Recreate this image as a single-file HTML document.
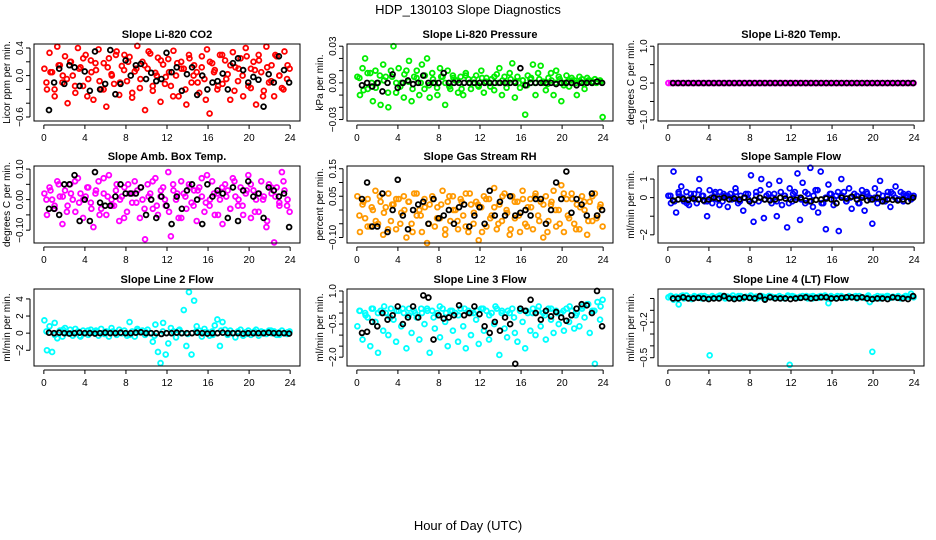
<!DOCTYPE html>
<html><head><meta charset="utf-8">
<style>
body{margin:0;background:#fff;}
svg{display:block;font-family:"Liberation Sans",sans-serif;}
</style></head>
<body>
<svg id="fig" width="936" height="540" viewBox="0 0 936 540">
<text x="468" y="14" text-anchor="middle" font-size="13">HDP_130103  Slope Diagnostics</text>
<text x="468" y="530" text-anchor="middle" font-size="13">Hour of Day (UTC)</text>
</svg>
<script>
const titles = ["Slope Li-820 CO2","Slope Li-820 Pressure","Slope Li-820 Temp.","Slope Amb. Box Temp.","Slope Gas Stream RH","Slope Sample Flow","Slope Line 2 Flow","Slope Line 3 Flow","Slope Line 4 (LT) Flow"];
const yLabels = ["Licor ppm per min.","kPa per min.","degrees C per min.","degrees C per min.","percent per min.","ml/min per min.","ml/min per min.","ml/min per min.","ml/min per min."];
const colors = ["#ff0000","#00ee00","#ff00ff","#ff00ff","#ff9900","#0000ff","#00ffff","#00ffff","#00ffff"];
const xTicks = [0,4,8,12,16,20,24];
const yLims = [[-0.658,0.458],[-0.0312,0.0318],[-1.03,1.06],[-0.142,0.11],[-0.12,0.16],[-2.44,1.7],[-3.84,5.16],[-2.4,1.09],[-0.57,0.08]];
const yTicks = [[-0.6,-0.4,-0.2,0,0.2,0.4],[-0.03,-0.02,-0.01,0,0.01,0.02,0.03],[-1,-0.5,0,0.5,1],[-0.1,-0.05,0,0.05,0.1],[-0.1,-0.05,0,0.05,0.1,0.15],[-2,-1,0,1],[-2,0,2,4],[-2,-1.5,-1,-0.5,0,0.5,1],[-0.5,-0.4,-0.3,-0.2,-0.1,0]];
const yTickLabels = [{"-0.6":"-0.6","0":"0.0","0.4":"0.4"},{"-0.03":"-0.03","0":"0.00","0.03":"0.03"},{"-1":"-1.0","0":"0.0","1":"1.0"},{"-0.1":"-0.10","0":"0.00","0.1":"0.10"},{"-0.1":"-0.10","0.05":"0.05","0.15":"0.15"},{"-2":"-2","0":"0","1":"1"},{"-2":"-2","0":"0","2":"2","4":"4"},{"-2":"-2.0","-0.5":"-0.5","1":"1.0"},{"-0.5":"-0.5","-0.2":"-0.2"}];

const col1 = [0.1,-0.2,0.33,0.05,-0.3,0.42,0.15,-0.1,0.28,-0.4,0.2,0.0,-0.25,0.4,0.12,-0.15,0.3,-0.05,0.22,-0.35,0.08,0.38,-0.2,0.18,-0.45,0.25,0.02,-0.12,0.35,-0.28,0.14,0.3,-0.08,0.27,-0.32,0.06,0.43,-0.18,0.2,-0.5,0.1,0.32,-0.22,0.04,0.26,-0.38,0.16,-0.02,0.24,-0.15,0.36,0.0,-0.3,0.2,0.1,-0.42,0.3,-0.1,0.15,0.05,-0.25,0.28,-0.05,0.38,-0.55,0.18,0.08,-0.2,0.3,-0.12,0.22,0.02,-0.35,0.34,0.12,-0.08,0.25,-0.3,0.4,-0.15,0.1,0.2,-0.42,0.3,0.05,-0.22,0.42,-0.1,0.15,-0.3,0.28,0.0,-0.18,0.35,-0.05,0.1];
const ext1 = [-0.1,0.05,-0.2,0.15,0.0,-0.05,0.2,-0.15,0.1,0.25,-0.3,0.05,0.18,-0.08,-0.2,0.12,0.0,0.3,-0.1,0.08,0.2,-0.25,0.1,-0.05,0.15,0.35,-0.15,0.0,0.22,-0.12,0.05,-0.3,0.18,0.1,-0.2,0.25,0.0,-0.1,0.12,-0.35,0.2,0.05,-0.15,0.3,-0.05,0.15,-0.22,0.1,0.0,0.28,-0.18,0.08,0.22,-0.3,0.12,-0.08,0.3,0.0,-0.2,0.15];
const blk1 = [-0.5,-0.1,0.1,-0.12,0.15,0.12,-0.15,0.06,-0.22,0.35,-0.2,-0.12,0.37,-0.27,-0.12,0.22,0.0,0.15,0.17,-0.05,0.04,-0.08,-0.05,0.33,0.05,0.12,-0.22,0.02,0.12,-0.28,0.0,-0.2,-0.1,-0.08,0.03,-0.2,0.18,0.25,0.08,-0.1,-0.02,-0.06,-0.45,0.02,-0.1,0.28,0.08,-0.1];
const col2 = [0.005,-0.01,0.012,0.02,-0.005,0.008,-0.015,0.01,0.0,-0.018,0.015,0.005,-0.02,0.01,0.03,-0.008,0.012,0.0,-0.012,0.01,0.018,-0.015,0.005,0.01,-0.01,0.015,-0.005,0.02,-0.012,0.008,0.0,-0.01,0.012,0.005,-0.018,0.01,-0.005,0.006,0.002,-0.008,0.005,-0.01,0.008,0.003,-0.005,0.0,0.006,-0.003,0.01,-0.008,0.004,0.0,0.003,-0.006,0.007,0.012,-0.01,0.005,0.0,0.008,0.016,-0.012,0.005,-0.004,0.002,-0.026,0.006,0.003,0.015,-0.01,0.008,0.014,0.0,-0.006,0.004,0.008,-0.01,0.01,0.005,-0.015,0.0,0.006,-0.003,0.004,0.002,-0.01,0.005,0.003,-0.005,0.004,0.002,0.0,0.003,0.001,0.002,-0.028];
const ext2 = [0.004,-0.006,0.008,0.0,-0.004,0.006,0.002,-0.008,0.005,0.0,-0.003,0.007,0.001,-0.005,0.004,0.0,0.006,-0.002,0.003,-0.004,0.005,0.0,-0.003,0.004,0.002,-0.005,0.006,0.0,0.003,-0.002,0.004,0.001,-0.003,0.005,0.0,0.002,-0.004,0.003,0.001,0.0,0.002,-0.002,0.004,0.0,0.003,0.001,-0.001,0.002,0.0,0.003,-0.002,0.001,0.002,0.0,0.001,-0.001,0.002,0.001,0.0,0.001];
const blk2 = [-0.002,0.0,-0.003,0.0,-0.007,0.0,0.007,-0.004,0.0,0.002,-0.001,0.0,0.006,0.0,0.0,0.0,0.008,0.0,0.0,0.0,0.0,0.0,0.0,0.0,0.0,0.0,0.0,0.0,0.0,0.0,0.0,0.012,-0.002,0.0,0.0,0.0,0.0,0.0,-0.001,0.0,0.0,0.0,-0.002,0.0,0.0,0.0,0.001,0.0];
const col3 = [0,0,0,0,0,0,0,0,0,0,0,0,0,0,0,0,0,0,0,0,0,0,0,0,0,0,0,0,0,0,0,0,0,0,0,0,0,0,0,0,0,0,0,0,0,0,0,0,0,0,0,0,0,0,0,0,0,0,0,0,0,0,0,0,0,0,0,0,0,0,0,0,0,0,0,0,0,0,0,0,0,0,0,0,0,0,0,0,0,0,0,0,0,0,0,0];
const ext3 = [];
const blk3 = [0,0,0,0,0,0,0,0,0,0,0,0,0,0,0,0,0,0,0,0,0,0,0,0,0,0,0,0,0,0,0,0,0,0,0,0,0,0,0,0,0,0,0,0,0,0,0,0];
const col4 = [0.02,-0.05,0.04,0.0,-0.03,0.06,0.01,-0.08,0.03,-0.02,0.05,0.0,-0.04,0.07,0.02,-0.06,0.01,0.04,-0.01,-0.09,0.03,0.06,-0.03,0.02,-0.05,0.08,0.0,-0.02,0.05,-0.07,0.01,0.04,-0.04,0.02,-0.01,0.06,0.03,-0.06,0.0,-0.13,0.05,0.02,-0.03,0.07,-0.05,0.01,0.04,-0.02,0.09,-0.12,0.03,0.0,-0.06,0.06,0.02,-0.03,0.05,-0.01,0.03,-0.07,0.04,0.01,-0.04,0.08,-0.02,0.06,-0.05,0.02,0.0,-0.08,0.05,0.03,-0.03,0.07,0.01,-0.02,0.04,-0.05,0.02,0.08,-0.06,0.03,0.0,-0.04,0.06,0.01,-0.09,0.05,0.02,-0.14,0.04,-0.01,0.09,0.03,-0.02,-0.04];
const ext4 = [0.0,0.03,-0.02,0.05,0.01,-0.04,0.02,0.06,-0.01,0.0,0.04,-0.03,0.02,-0.05,0.07,0.01,-0.02,0.03,0.0,-0.06,0.05,0.02,-0.01,0.04,-0.03,0.01,0.06,-0.02,0.03,0.0,-0.04,0.05,0.02,-0.06,0.01,0.04,-0.02,0.03,0.07,-0.01,0.0,0.02,-0.05,0.04,0.01,-0.03,0.06,0.0,-0.02,0.03,0.05,-0.04,0.02,0.0,-0.07,0.04,0.01,-0.02,0.06,0.0];
const blk4 = [-0.03,-0.03,-0.05,0.05,0.05,0.08,-0.07,0.0,-0.07,0.09,-0.01,-0.02,-0.02,0.01,0.05,0.02,0.02,0.02,0.04,-0.05,0.0,-0.06,0.01,-0.02,-0.08,0.01,-0.03,0.03,0.05,0.0,-0.08,0.05,0.01,0.03,0.02,-0.06,0.04,-0.07,0.03,0.06,0.01,0.02,-0.06,0.04,0.03,0.01,0.02,-0.09];
const col5 = [0.05,-0.08,0.02,-0.03,0.04,-0.06,0.0,0.07,-0.05,0.03,-0.09,0.01,0.06,-0.04,0.02,-0.07,0.04,-0.01,0.05,-0.1,0.03,-0.05,0.06,-0.02,0.0,-0.08,0.04,-0.12,0.02,0.05,-0.06,0.01,-0.03,0.07,-0.09,0.03,-0.04,0.05,0.0,-0.07,0.04,-0.02,0.06,-0.08,0.02,-0.05,0.03,-0.11,0.01,0.05,-0.06,0.04,-0.02,0.08,-0.07,0.02,-0.04,0.06,-0.01,-0.09,0.05,-0.03,0.03,-0.08,0.07,-0.05,0.01,0.04,-0.07,0.06,-0.02,0.03,-0.1,0.05,-0.04,0.02,0.07,-0.06,0.0,0.09,-0.08,0.04,-0.03,0.06,-0.05,0.02,-0.07,0.05,0.0,-0.09,0.03,-0.04,0.06,-0.02,0.01,-0.06];
const ext5 = [-0.02,0.03,-0.06,0.01,-0.04,0.05,-0.01,-0.07,0.02,0.04,-0.05,0.0,0.03,-0.08,0.06,-0.02,0.01,-0.05,0.04,-0.03,0.02,-0.07,0.05,0.0,-0.04,0.03,-0.06,0.06,-0.01,0.02,-0.08,0.04,-0.03,0.01,-0.05,0.05,0.0,-0.07,0.03,-0.02,0.04,-0.06,0.01,0.05,-0.04,0.02,-0.08,0.03,0.0,-0.05,0.06,-0.02,0.04,-0.07,0.01,0.03,-0.04,0.05,-0.03,0.02];
const blk5 = [0.04,0.1,-0.06,-0.06,0.06,-0.08,0.0,0.11,-0.02,-0.07,0.0,0.02,0.03,-0.05,0.04,-0.03,-0.02,0.0,-0.05,0.01,0.02,-0.06,-0.02,0.01,-0.05,0.07,-0.02,0.03,-0.02,0.05,-0.02,-0.01,0.0,-0.02,0.04,0.04,-0.05,0.0,0.1,0.04,0.14,-0.01,0.04,0.02,-0.02,0.06,-0.02,0.0];
const col6 = [0.1,-0.3,1.4,-0.8,0.2,0.6,-0.2,0.3,-0.4,0.0,0.2,-0.3,1.0,0.1,-0.2,-1.0,0.4,-0.3,0.2,-0.1,0.3,-0.2,0.1,-0.5,0.2,0.0,0.5,-0.3,0.1,-0.7,0.2,-0.1,1.2,-1.3,0.3,-0.2,1.0,-1.1,0.1,0.7,-0.3,0.2,-1.0,0.9,-0.4,0.1,-1.6,0.5,-0.2,0.3,1.3,-1.2,0.8,-0.3,0.2,1.6,-0.5,0.4,-0.8,1.4,-0.3,-1.7,0.7,0.2,-0.4,0.1,-1.8,1.0,0.3,-0.2,0.5,-0.6,0.2,0.1,-0.3,0.4,-0.7,0.2,0.0,-1.4,0.5,-0.3,0.9,0.1,-0.2,0.3,-0.5,0.2,0.6,-0.1,0.3,-0.2,0.1,0.2,-0.1,0.1];
const ext6 = [0.1,-0.2,0.3,0.0,-0.3,0.2,-0.1,0.4,0.1,-0.2,0.0,0.3,-0.4,0.2,0.1,-0.1,0.3,-0.2,0.0,0.2,-0.3,0.1,0.4,-0.1,0.2,0.0,-0.2,0.3,0.1,-0.3,0.2,0.0,-0.1,0.3,-0.2,0.1,0.4,-0.3,0.0,0.2,-0.1,0.3,0.1,-0.2,0.0,0.2,-0.3,0.1,0.3,-0.1,0.0,0.2,-0.2,0.1,0.3,0.0,-0.1,0.2,0.1,0.0];
const blk6 = [-0.15,-0.1,-0.08,-0.12,-0.05,-0.1,-0.15,-0.1,0.0,-0.05,0.0,-0.1,-0.05,-0.1,0.0,-0.2,-0.12,0.0,-0.1,-0.15,-0.1,0.0,-0.05,-0.1,-0.12,0.0,-0.15,-0.2,-0.12,-0.1,-0.05,-0.1,-0.3,0.0,-0.05,0.05,-0.1,0.0,-0.15,-0.1,0.0,-0.2,-0.1,-0.12,-0.15,-0.1,-0.2,0.0];
const col7 = [1.5,-2.0,0.8,-2.2,1.2,-0.6,0.3,-0.4,0.6,0.0,0.4,-0.3,0.5,0.2,-0.4,0.3,0.0,-0.2,0.4,0.1,0.3,-0.3,0.5,0.0,0.2,-0.4,0.6,0.1,-0.2,0.4,0.0,0.3,-0.3,1.3,0.2,-0.4,0.5,0.1,0.3,-0.2,0.4,0.0,-1.0,1.0,-2.2,-3.5,1.2,-2.5,-1.2,0.6,0.2,-0.5,0.3,0.0,2.7,-1.5,4.8,-2.5,3.8,0.8,0.3,-0.4,0.5,0.1,-0.3,0.2,0.9,1.6,-1.5,1.3,0.4,-0.2,0.3,0.0,-0.5,0.2,0.4,-0.3,0.1,0.3,-0.2,0.0,0.4,-0.3,0.2,0.1,-0.1,0.3,0.0,0.2,-0.2,0.1,0.3,0.0,-0.1,0.2];
const ext7 = [0.2,-0.2,0.4,0.0,-0.3,0.3,0.1,-0.1,0.2,0.0,-0.2,0.3,0.1,-0.3,0.2,0.0,0.4,-0.1,0.2,0.1,-0.2,0.3,0.0,0.1,-0.1,0.2,0.0,0.3,-0.2,0.1];
const blk7 = [0.05,0.0,0.05,0.0,-0.05,0.0,0.05,0.0,0.0,-0.05,0.0,0.05,0.0,0.0,0.05,0.0,0.0,0.05,0.1,0.0,0.0,0.0,-0.1,0.0,0.0,0.05,0.0,0.0,0.0,0.05,0.0,-0.05,0.0,0.0,0.05,0.0,0.0,0.0,-0.05,0.0,0.0,0.0,0.0,0.05,0.0,0.0,0.0,-0.05];
const col8 = [-0.6,0.1,-1.2,0.0,-0.2,-1.5,0.2,-0.4,-1.8,0.1,-0.8,0.0,-1.0,0.2,-0.3,-1.3,0.1,-0.6,0.0,-1.6,0.2,-0.9,0.1,-0.2,-1.2,0.0,-0.5,0.2,-1.8,0.1,-0.7,0.0,-1.1,0.2,-0.4,-1.5,0.1,-0.8,0.0,-1.3,0.2,-0.6,-1.6,0.1,-1.0,0.0,-0.3,-1.4,0.2,-0.8,0.1,-1.2,0.0,-0.5,0.2,-1.9,0.1,-0.7,-1.1,0.0,0.2,-0.9,-1.3,0.1,-0.4,-1.6,0.0,-0.8,0.2,-1.0,0.1,-0.6,0.0,-1.2,0.2,-0.3,-0.9,0.1,-0.5,0.0,-0.8,0.2,-0.4,0.1,-0.7,0.0,-0.6,0.3,-0.2,0.4,-0.9,0.1,-2.3,0.5,-0.3,0.6];
const ext8 = [0.1,-0.1,0.2,0.0,0.3,-0.2,0.1,0.2,-0.1,0.0,0.2,0.1,-0.2,0.3,0.0,0.1,-0.1,0.2,0.0,0.1,0.2,-0.1,0.3,0.0,0.1,-0.2,0.2,0.1,0.0,0.3,-0.1,0.2,0.0,0.1,0.3,-0.1,0.2,0.4,0.1,0.3];
const blk8 = [-0.9,-0.85,-0.4,-0.6,0.0,-0.3,-0.1,0.3,-0.5,-0.2,0.3,-0.2,0.8,0.7,-1.2,-0.1,-0.25,-0.2,-0.1,0.35,-0.1,0.0,0.3,-0.05,-0.6,-0.9,-0.4,-0.8,-0.2,-0.5,-2.3,0.2,0.1,0.6,0.0,-0.3,0.1,-0.15,0.05,-0.2,-0.35,-0.1,0.2,0.4,0.35,0.0,1.0,-0.6];
const col9 = [0.01,0.02,-0.01,0.015,-0.05,0.02,0.0,0.025,0.01,-0.005,0.02,0.01,0.015,0.0,0.02,0.01,-0.48,0.02,0.005,0.015,0.01,0.02,0.0,0.015,0.01,0.025,0.005,0.01,0.02,0.0,0.015,0.01,0.02,0.005,0.015,0.01,0.02,0.0,0.01,0.02,0.015,0.005,0.01,0.02,0.01,0.0,0.015,-0.56,0.02,0.01,0.005,0.015,0.02,0.01,0.0,0.015,0.02,0.01,0.005,0.02,0.01,0.015,-0.04,0.02,0.01,0.0,0.015,0.02,0.01,0.005,0.02,0.01,0.015,0.0,0.02,0.01,0.005,0.015,-0.03,-0.45,0.01,0.02,0.0,0.015,0.01,0.02,0.005,0.015,0.01,0.02,0.0,0.01,0.02,0.015,0.04,0.01];
const ext9 = [0.02,0.01,0.025,0.005,0.015,0.02,0.0,0.01,0.025,0.015,0.005,0.02,0.01,0.025,0.0,0.015,0.02,0.01,0.005,0.025,0.015,0.01,0.02,0.0,0.015,0.025,0.01,0.02,0.005,0.015,0.02,0.01,0.025,0.0,0.015,0.02,0.01,0.005,0.02,0.015];
const blk9 = [0.0,0.0,0.01,0.0,0.0,0.005,0.0,-0.005,0.0,0.0,0.02,0.0,-0.005,0.0,0.01,0.005,0.0,0.02,-0.01,0.01,0.0,0.0,0.0,-0.005,0.0,0.005,0.01,0.0,0.005,0.01,0.01,0.0,0.0,0.005,0.01,0.01,0.005,0.01,0.0,-0.005,0.0,0.0,-0.005,0.01,0.005,0.0,-0.005,0.02];
const colored = [col1,col2,col3,col4,col5,col6,col7,col8,col9];
const extras = [ext1,ext2,ext3,ext4,ext5,ext6,ext7,ext8,ext9];
const blacks = [blk1,blk2,blk3,blk4,blk5,blk6,blk7,blk8,blk9];

const NS = "http://www.w3.org/2000/svg";
const svg = document.getElementById("fig");
const colLeft = [34,347,658], rowTop = [44,166,289], PW = 266, PH = 77;
function mk(tag, attrs, parent){ const e=document.createElementNS(NS,tag); for(const k in attrs) e.setAttribute(k,attrs[k]); (parent||svg).appendChild(e); return e; }

for (let p=0;p<9;p++){
  const L = colLeft[p%3], T = rowTop[Math.floor(p/3)];
  const g = mk("g",{});
  
  
  const xs = h => L + PW*(h + 0.96)/25.92;
  const [y0,y1] = yLims[p];
  const ys = v => T + PH - PH*(v - y0)/(y1 - y0);
  const ttl = mk("text",{x:L+PW/2,y:T-6,"text-anchor":"middle","font-size":11,"font-weight":"bold"},g);
  ttl.textContent = titles[p];
  
  
  const xa = mk("g",{},g);
  
  
  mk("line",{x1:xs(0),x2:xs(24),y1:T+PH+4,y2:T+PH+4,stroke:"#000"},xa);
  xTicks.forEach(t=>{
    mk("line",{x1:xs(t),x2:xs(t),y1:T+PH+4,y2:T+PH+8,stroke:"#000"},xa);
    const tx = mk("text",{x:xs(t),y:T+PH+20,"text-anchor":"middle","font-size":10},xa);
    tx.textContent = t;
    
    
  });
  const ya = mk("g",{},g);
  
  
  const tk = yTicks[p];
  mk("line",{x1:L-4,x2:L-4,y1:ys(tk[0]),y2:ys(tk[tk.length-1]),stroke:"#000"},ya);
  tk.forEach(t=>{
    mk("line",{x1:L-8,x2:L-4,y1:ys(t),y2:ys(t),stroke:"#000"},ya);
    const lab = yTickLabels[p][String(t)];
    if (lab!==undefined){
      const tx = mk("text",{x:L-11,y:ys(t),"text-anchor":"middle","font-size":10,transform:`rotate(-90 ${L-11} ${ys(t)})`},ya);
      tx.textContent = lab.replace("-","\u2212");
      
      
    }
  });
  const yl = mk("text",{x:L-24,y:T+PH/2,"text-anchor":"middle","font-size":10,transform:`rotate(-90 ${L-24} ${T+PH/2})`},g);
  yl.textContent = yLabels[p];
  
  
  const cv = colored[p];
  cv.forEach((v,i)=>{
    const h = 0.05 + i*23.9/(cv.length-1);
    const c = mk("circle",{cx:xs(h),cy:ys(v),r:2.4,fill:"none",stroke:colors[p],"stroke-width":1.8},g);
    
    
  });
  const ev = extras[p];
  ev.forEach((v,i)=>{
    const h = 0.25 + i*23.5/Math.max(1,ev.length-1);
    const c = mk("circle",{cx:xs(h),cy:ys(v),r:2.4,fill:"none",stroke:colors[p],"stroke-width":1.8},g);
    
    
  });
  const bv = blacks[p];
  bv.forEach((v,i)=>{
    const h = 0.5 + i*23.4/(bv.length-1);
    const c = mk("circle",{cx:xs(h),cy:ys(v),r:2.4,fill:"none",stroke:"#000","stroke-width":1.8},g);
    
    
  });
  const box = mk("rect",{x:L,y:T,width:PW,height:PH,fill:"none",stroke:"#000"},g);
  
  
}
</script>
</body></html>
